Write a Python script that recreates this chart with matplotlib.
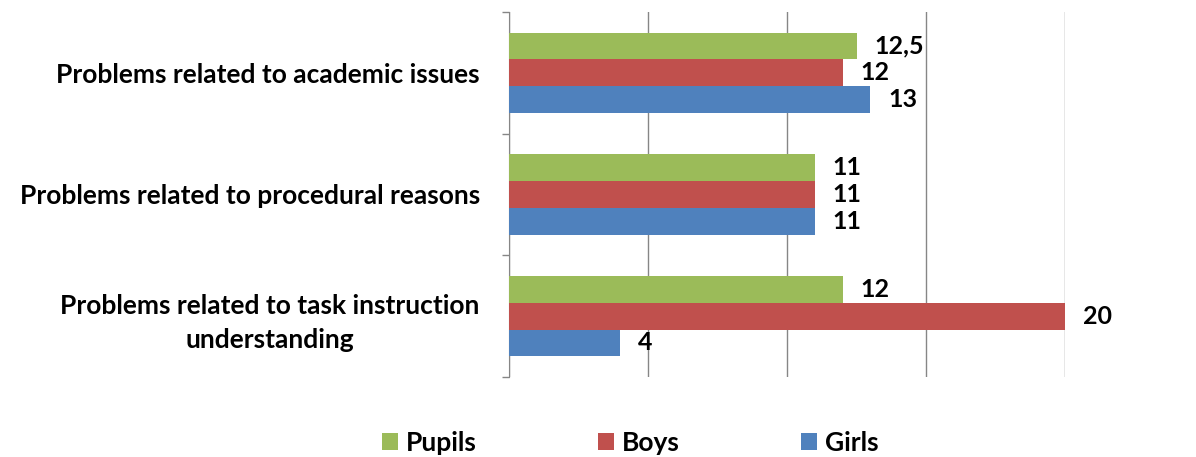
import numpy as np
import matplotlib
matplotlib.use("Agg")
import matplotlib.pyplot as plt

categories = ["Problems related to academic issues",
              "Problems related to procedural reasons",
              "Problems related to task instruction\nunderstanding"]
series = ["Pupils", "Boys", "Girls"]
pupils = [12.5, 11, 12]
boys = [12, 11, 20]
girls = [13, 11, 4]
colors = ["#9BBB59", "#C0504D", "#4F81BD"]

plt.rcParams['font.family'] = ['Lato', 'DejaVu Sans']

fig = plt.figure(figsize=(11.96, 4.57), dpi=100)
ax = fig.add_axes([509/1196, 1-377/457, (1065-509)/1196, (377-12)/457])

y = np.arange(len(categories))
h = 0.22
vals = [pupils, boys, girls]
for i, (name, v, c) in enumerate(zip(series, vals, colors)):
    pos = y + (i - 1) * h
    bars = ax.barh(pos, v, height=h, color=c, label=name, zorder=3)
    for b, val in zip(bars, v):
        txt = ("%g" % val).replace(".", ",")
        ax.annotate(txt, (b.get_width(), b.get_y() + b.get_height()/2),
                    xytext=(13, 0), textcoords="offset points",
                    ha="left", va="center", fontsize=18, fontweight="bold")

ax.set_xlim(0, 20)
ax.set_ylim(2.5, -0.5)
ax.set_xticks([0, 5, 10, 15, 20])
ax.xaxis.grid(True, color="#868686", linewidth=1, zorder=0)
ax.tick_params(axis="x", length=0, labelbottom=False)

ax.set_yticks(y)
ax.set_yticklabels(categories, fontsize=19, fontweight="bold",
                   ha="right", multialignment="center", linespacing=1.5)
ax.tick_params(axis="y", which="major", length=0, pad=21)
ax.set_yticks([-0.5, 0.5, 1.5, 2.5], minor=True)
ax.tick_params(axis="y", which="minor", length=5, color="#868686", width=1)

for s in ["top", "right", "bottom"]:
    ax.spines[s].set_visible(False)
ax.spines["left"].set_color("#868686")

handles, labels = ax.get_legend_handles_labels()
fig.legend(handles, labels, loc="center", bbox_to_anchor=(630/1196, 1-443/457),
           ncol=3, frameon=False, prop={"weight": "bold", "size": 19},
           handlelength=0.6, handleheight=0.6, columnspacing=4.6, handletextpad=0.3)

fig.savefig("out.png", dpi=100)
